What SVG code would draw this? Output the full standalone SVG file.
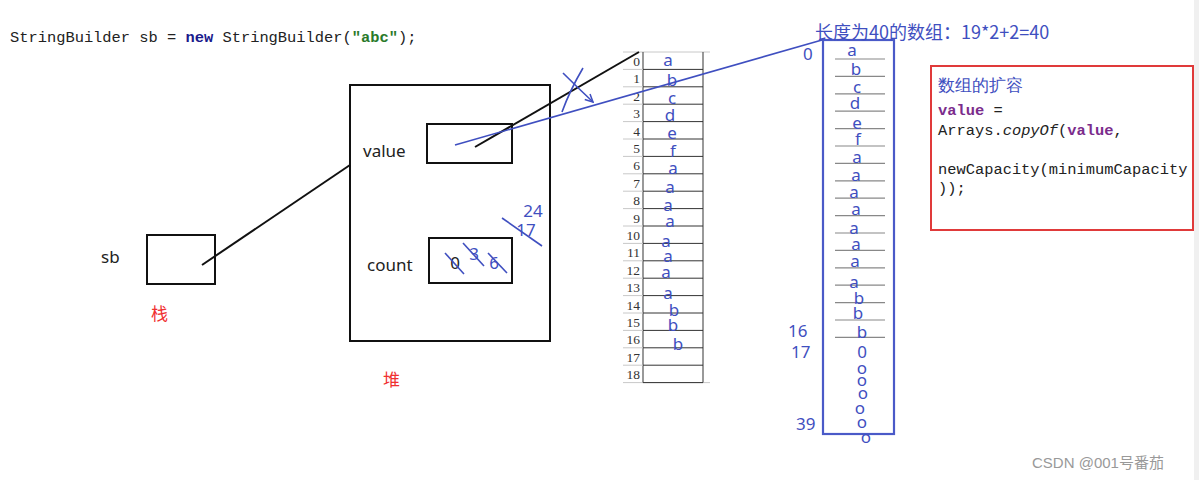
<svg xmlns="http://www.w3.org/2000/svg" width="1199" height="480" viewBox="0 0 1199 480">
<style>
.code{font-family:"Liberation Mono",monospace;font-size:15.4px;fill:#222}
.lbl{font-family:"Noto Sans","Liberation Sans",sans-serif;font-size:17px;fill:#222}
.red{font-family:"Noto Sans CJK SC",sans-serif;font-size:17px;fill:#f03030}
.blue{font-family:"Noto Sans","Liberation Sans",sans-serif;font-size:17px;fill:#3f4fc0}
.bc{text-anchor:middle}
.idx{font-family:"Liberation Serif",serif;font-size:13.5px;fill:#333;text-anchor:end}
.box{fill:none;stroke:#111;stroke-width:2}
.bl{stroke:#3f4fc0;stroke-width:1.6;fill:none}
.bk{stroke:#111;stroke-width:2;fill:none}
.g{stroke:#c8c8c8;stroke-width:1}
.d{stroke:#333;stroke-width:1}
.rl{stroke:#888;stroke-width:1.2}
.kw{font-weight:bold;fill:#7b2c8c}
</style>
<defs>
<marker id="ah" viewBox="0 0 10 10" refX="9" refY="5" markerWidth="6" markerHeight="6" orient="auto"><path d="M1,1 L9,5 L1,9" fill="none" stroke="#3f4fc0" stroke-width="1.6"/></marker>
</defs>
<rect width="1199" height="480" fill="#fff"/>
<rect x="1194" y="0" width="5" height="480" fill="#f0f0f0"/>

<text class="code" x="10" y="42">StringBuilder sb = <tspan font-weight="bold" fill="#1a1a8c">new</tspan> StringBuilder(<tspan font-weight="bold" fill="#2a7a2a">"abc"</tspan>);</text>

<g id="stack">
<text class="lbl" x="101" y="263">sb</text>
<rect class="box" x="147" y="235" width="68" height="49"/>
<text class="red" x="151" y="320">栈</text>
</g>

<g id="heap">
<rect class="box" x="350" y="85" width="200" height="256"/>
<text class="lbl" x="363" y="157">value</text>
<rect class="box" x="427" y="124" width="85" height="39"/>
<text class="lbl" x="367" y="271">count</text>
<rect class="box" x="429" y="238" width="83" height="45"/>
<text class="red" x="383" y="386">堆</text>
<text class="lbl" x="455" y="269" text-anchor="middle">0</text>
<text class="blue" x="474" y="260" text-anchor="middle">3</text>
<text class="blue" x="494" y="269" text-anchor="middle">6</text>
<text class="blue" x="533" y="217" text-anchor="middle">24</text>
<text class="blue" x="526" y="236" text-anchor="middle">17</text>
<line class="bl" x1="445" y1="253" x2="464" y2="274"/>
<line class="bl" x1="463" y1="243" x2="484" y2="266"/>
<line class="bl" x1="488" y1="253" x2="507" y2="273"/>
<line class="bl" x1="502" y1="218" x2="542" y2="246"/>
</g>

<g id="array1">
<g class="g">
<line x1="623" y1="52" x2="710" y2="52"/>
<line x1="623" y1="382.6" x2="710" y2="382.6"/>
</g>
<line x1="643" y1="52" x2="643" y2="382.6" stroke="#555" stroke-width="1.2"/>
<line x1="703" y1="52" x2="703" y2="382.6" stroke="#555" stroke-width="1.2"/>
<g class="g">
<line x1="623" y1="69.4" x2="643" y2="69.4"/><line x1="623" y1="86.8" x2="643" y2="86.8"/><line x1="623" y1="104.2" x2="643" y2="104.2"/><line x1="623" y1="121.6" x2="643" y2="121.6"/><line x1="623" y1="139" x2="643" y2="139"/><line x1="623" y1="156.4" x2="643" y2="156.4"/><line x1="623" y1="173.8" x2="643" y2="173.8"/><line x1="623" y1="191.2" x2="643" y2="191.2"/><line x1="623" y1="208.6" x2="643" y2="208.6"/><line x1="623" y1="226" x2="643" y2="226"/><line x1="623" y1="243.4" x2="643" y2="243.4"/><line x1="623" y1="260.8" x2="643" y2="260.8"/><line x1="623" y1="278.2" x2="643" y2="278.2"/><line x1="623" y1="295.6" x2="643" y2="295.6"/><line x1="623" y1="313" x2="643" y2="313"/><line x1="623" y1="330.4" x2="643" y2="330.4"/><line x1="623" y1="347.8" x2="643" y2="347.8"/><line x1="623" y1="365.2" x2="643" y2="365.2"/>
</g>
<g class="d">
<line x1="643" y1="69.4" x2="703" y2="69.4"/><line x1="643" y1="86.8" x2="703" y2="86.8"/><line x1="643" y1="104.2" x2="703" y2="104.2"/><line x1="643" y1="121.6" x2="703" y2="121.6"/><line x1="643" y1="139" x2="703" y2="139"/><line x1="643" y1="156.4" x2="703" y2="156.4"/><line x1="643" y1="173.8" x2="703" y2="173.8"/><line x1="643" y1="191.2" x2="703" y2="191.2"/><line x1="643" y1="208.6" x2="703" y2="208.6"/><line x1="643" y1="226" x2="703" y2="226"/><line x1="643" y1="243.4" x2="703" y2="243.4"/><line x1="643" y1="260.8" x2="703" y2="260.8"/><line x1="643" y1="278.2" x2="703" y2="278.2"/><line x1="643" y1="295.6" x2="703" y2="295.6"/><line x1="643" y1="313" x2="703" y2="313"/><line x1="643" y1="330.4" x2="703" y2="330.4"/><line x1="643" y1="347.8" x2="703" y2="347.8"/><line x1="643" y1="365.2" x2="703" y2="365.2"/><line x1="643" y1="382.6" x2="703" y2="382.6"/>
</g>
<g class="idx">
<text x="640" y="66">0</text><text x="640" y="83.4">1</text><text x="640" y="100.8">2</text><text x="640" y="118.2">3</text><text x="640" y="135.6">4</text><text x="640" y="153">5</text><text x="640" y="170.4">6</text><text x="640" y="187.8">7</text><text x="640" y="205.2">8</text><text x="640" y="222.6">9</text><text x="640" y="240">10</text><text x="640" y="257.4">11</text><text x="640" y="274.8">12</text><text x="640" y="292.2">13</text><text x="640" y="309.6">14</text><text x="640" y="327">15</text><text x="640" y="344.4">16</text><text x="640" y="361.8">17</text><text x="640" y="379.2">18</text>
</g>
<g class="blue bc">
<text x="668" y="66">a</text><text x="672" y="86">b</text><text x="672" y="104">c</text><text x="670" y="121">d</text><text x="672" y="139">e</text><text x="673" y="157">f</text><text x="673" y="174">a</text><text x="670" y="193">a</text><text x="668" y="211">a</text><text x="670" y="227">a</text><text x="666" y="247">a</text><text x="668" y="262">a</text><text x="666" y="278">a</text><text x="668" y="299">a</text><text x="674" y="316">b</text><text x="673" y="331">b</text><text x="678" y="350">b</text>
</g>
</g>

<g id="array2">
<rect x="823" y="40" width="71" height="394" fill="none" stroke="#4a5ac8" stroke-width="2.2"/>
<g class="rl">
<line x1="835" y1="59" x2="885" y2="59"/><line x1="835" y1="76.4" x2="885" y2="76.4"/><line x1="835" y1="93.8" x2="885" y2="93.8"/><line x1="835" y1="111.2" x2="885" y2="111.2"/><line x1="835" y1="128.6" x2="885" y2="128.6"/><line x1="835" y1="146" x2="885" y2="146"/><line x1="835" y1="163.4" x2="885" y2="163.4"/><line x1="835" y1="180.8" x2="885" y2="180.8"/><line x1="835" y1="198.2" x2="885" y2="198.2"/><line x1="835" y1="215.6" x2="885" y2="215.6"/><line x1="835" y1="233" x2="885" y2="233"/><line x1="835" y1="250.4" x2="885" y2="250.4"/><line x1="835" y1="267.8" x2="885" y2="267.8"/><line x1="835" y1="285.2" x2="885" y2="285.2"/><line x1="835" y1="302.6" x2="885" y2="302.6"/><line x1="835" y1="320" x2="885" y2="320"/><line x1="835" y1="337.4" x2="885" y2="337.4"/>
</g>
<g class="blue bc">
<text x="852" y="56">a</text><text x="856" y="75">b</text><text x="857" y="93">c</text><text x="855" y="109">d</text><text x="857" y="129">e</text><text x="858" y="145">f</text><text x="857" y="163">a</text><text x="856" y="181">a</text><text x="854" y="198">a</text><text x="856" y="215">a</text><text x="854" y="234">a</text><text x="856" y="250">a</text><text x="855" y="267">a</text><text x="854" y="288">a</text><text x="859" y="304">b</text><text x="858" y="319">b</text><text x="862" y="338">b</text>
<text x="862" y="358">0</text><text x="862" y="374">o</text><text x="862" y="386">o</text><text x="863" y="399">o</text><text x="860" y="414">o</text><text x="862" y="428">o</text><text x="866" y="443">o</text>
</g>
<g class="blue">
<text x="803" y="60">0</text><text x="788" y="337">16</text><text x="791" y="358">17</text><text x="796" y="430">39</text>
<text x="815" y="38.5" font-size="18" font-family="Noto Sans CJK SC,sans-serif">长度为40的数组：19*2+2=40</text>
</g>
</g>

<g id="expand">
<rect x="931" y="66" width="262" height="164" fill="none" stroke="#e03a3a" stroke-width="2"/>
<text class="blue" x="938" y="91" fill="#5a5ac8" font-family="Noto Sans CJK SC,sans-serif">数组的扩容</text>
<text class="code" x="938" y="115"><tspan class="kw">value</tspan> =</text>
<text class="code" x="938" y="135">Arrays.<tspan font-style="italic">copyOf</tspan>(<tspan class="kw">value</tspan>,</text>
<text class="code" x="938" y="174">newCapacity(minimumCapacity</text>
<text class="code" x="938" y="193">));</text>
</g>

<g id="connectors">
<line class="bk" x1="202" y1="265" x2="350" y2="165"/>
<line class="bk" x1="475" y1="147" x2="639" y2="52"/>
<line class="bl" x1="455" y1="145" x2="822" y2="40" stroke-width="2"/>
<path class="bl" d="M563,73 Q578,88 593,102" marker-end="url(#ah)"/>
<path class="bl" d="M583,68 Q570,90 562,112"/>
</g>

<text x="1032" y="468" font-family="Liberation Sans,Noto Sans CJK SC,sans-serif" font-size="15" fill="#999">CSDN @001号番茄</text>
</svg>
